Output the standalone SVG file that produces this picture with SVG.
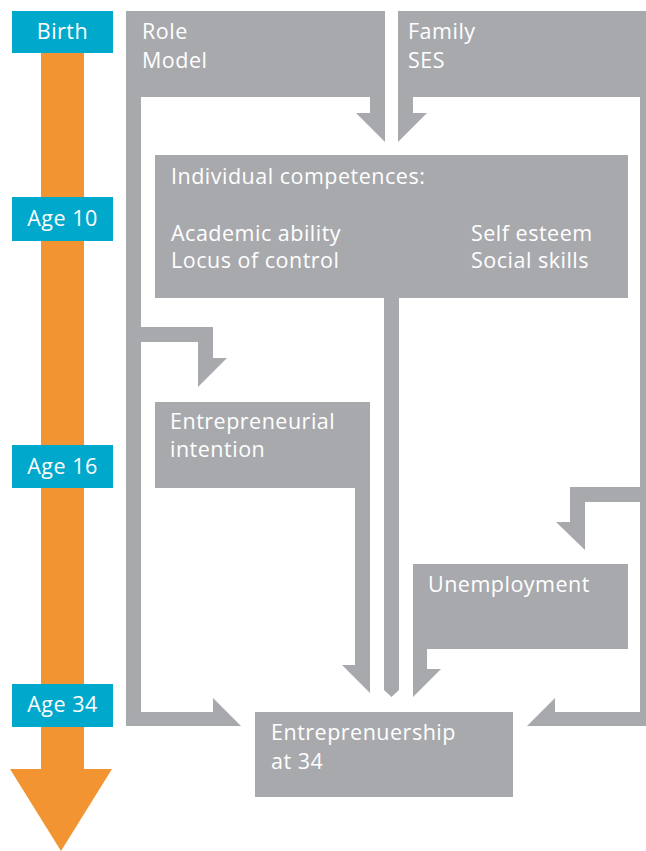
<svg xmlns="http://www.w3.org/2000/svg" width="646" height="851" viewBox="0 0 646 851">
  <style>
    .box { fill: #a8a9ad; }
    .age { fill: #00a8cc; }
    .flow { fill: #a8a9ad; }
    .time { fill: #f39433; }
    text { font-family: "Open Sans", "Liberation Sans", sans-serif; font-size: 21.5px; letter-spacing: 0.5px; fill: #ffffff; }
    .mid { text-anchor: middle; }
  </style>

  <!-- timeline -->
  <g id="timeline">
    <rect class="time" x="41" y="50" width="43" height="720"/>
    <polygon class="time" points="10,769 112,769 61,851"/>
  </g>
  <g id="age-birth">
    <rect class="age" x="12" y="11" width="101" height="42"/>
    <text class="mid" x="62.5" y="39">Birth</text>
  </g>
  <g id="age-10">
    <rect class="age" x="12" y="197" width="101" height="44"/>
    <text class="mid" x="62.5" y="226">Age 10</text>
  </g>
  <g id="age-16">
    <rect class="age" x="12" y="445" width="101" height="43"/>
    <text class="mid" x="62.5" y="474">Age 16</text>
  </g>
  <g id="age-34">
    <rect class="age" x="12" y="684" width="101" height="43"/>
    <text class="mid" x="62.5" y="712">Age 34</text>
  </g>

  <!-- connectors -->
  <g id="connectors">
    <!-- role model into competences -->
    <polygon class="flow" points="370,96 385,96 385,142 356,113 370,113"/>
    <!-- family SES into competences -->
    <polygon class="flow" points="398,96 413,96 413,113 427,113 398,142"/>
    <!-- role model down to entrepreneurship -->
    <polygon class="flow" points="126,96 141,96 141,712 213,712 213,698 241,726 126,726"/>
    <!-- role model branch to intention -->
    <polygon class="flow" points="141,327 213,327 213,358 227,358 198,387 198,342 141,342"/>
    <!-- intention down to entrepreneurship -->
    <polygon class="flow" points="355,487 370,487 370,693 342,665 355,665"/>
    <!-- competences down to entrepreneurship -->
    <polygon class="flow" points="384,297 399,297 399,690 391.5,697 384,690"/>
    <!-- unemployment down to entrepreneurship -->
    <polygon class="flow" points="413,648 427,648 427,669 441,669 413,697"/>
    <!-- family SES right rail to entrepreneurship -->
    <polygon class="flow" points="640,96 646,96 646,726 527,726 555,698 555,712 640,712"/>
    <!-- family SES branch to unemployment -->
    <polygon class="flow" points="570,487 646,487 646,502 585,502 585,550 556,522 570,522"/>
  </g>

  <!-- nodes -->
  <g id="role-model">
    <rect class="box" x="126" y="11" width="259" height="86"/>
    <text x="142" y="39">Role</text>
    <text x="142" y="68">Model</text>
  </g>
  <g id="family-ses">
    <rect class="box" x="398" y="11" width="248" height="86"/>
    <text x="408" y="39">Family</text>
    <text x="408" y="68">SES</text>
  </g>
  <g id="competences">
    <rect class="box" x="155" y="155" width="473" height="143"/>
    <text x="171" y="184">Individual competences:</text>
    <text x="171" y="241">Academic ability</text>
    <text x="171" y="268">Locus of control</text>
    <text x="471" y="241">Self esteem</text>
    <text x="471" y="268">Social skills</text>
  </g>
  <g id="intention">
    <rect class="box" x="155" y="402" width="215" height="86"/>
    <text x="170" y="429">Entrepreneurial</text>
    <text x="170" y="457">intention</text>
  </g>
  <g id="unemployment">
    <rect class="box" x="413" y="564" width="215" height="85"/>
    <text x="428" y="592">Unemployment</text>
  </g>
  <g id="entrepreneurship">
    <rect class="box" x="255" y="712" width="258" height="85"/>
    <text x="271" y="740">Entreprenuership</text>
    <text x="271" y="769">at 34</text>
  </g>
</svg>
